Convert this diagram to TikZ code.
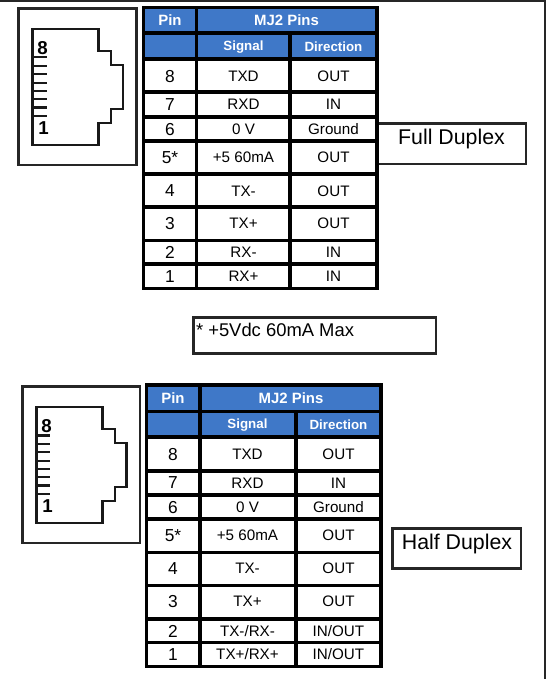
\documentclass[tikz,border=0pt]{standalone}
\usepackage{fontspec}
\setmainfont{Liberation Sans}

\definecolor{headblue}{RGB}{63,120,200}
\tikzset{
	every picture/.style={line width=0.75pt},
	gridline/.style={line width=2.4pt,color=black},
	framebox/.style={draw=black!85,line width=1.6pt},
	jackline/.style={draw=black!90,line width=1.9pt},
	headfill/.style={fill=headblue,draw opacity=0},
	headbig/.style={text=white,font=\fontsize{11.2}{12}\bfseries\selectfont,inner sep=0pt},
	headsmall/.style={text=white,font=\fontsize{10}{12}\bfseries\selectfont,inner sep=0pt},
	pincell/.style={font=\fontsize{13}{14}\selectfont,inner sep=0pt},
	textcell/.style={font=\fontsize{11.4}{13}\selectfont,inner sep=0pt},
	pinmark/.style={font=\fontsize{14}{15}\bfseries\selectfont,inner sep=0pt},
	notetext/.style={font=\fontsize{16}{18}\selectfont,inner sep=0pt},
	smallnote/.style={font=\fontsize{13.8}{15}\selectfont,inner sep=0pt}}

\begin{document}
\begin{tikzpicture}[x=0.75pt,y=0.75pt,yscale=-1,xscale=1]
		\useasboundingbox (0,0) rectangle (548,679);

		%Page edge
		\draw [line width=1.5pt,color=black!85]   (0,0.5) -- (544.5,0.5) -- (544.5,679) ;

		%Shape: Rectangle, upper jack
		\draw [framebox]  (18.5,8.5) rectangle (136.5,165) ;
		\draw [jackline]  (32.5,29) -- (98.5,29) -- (98.5,51) -- (111,51) -- (111,65) -- (123,65) -- (123,109) -- (111,109) -- (111,123) -- (98.5,123) -- (98.5,145) -- (32.5,145) -- cycle ;
		\draw [jackline]  (32.5,57) -- (46.5,57) (32.5,66) -- (46.5,66) (32.5,74) -- (46.5,74) (32.5,83) -- (46.5,83) (32.5,91) -- (46.5,91) (32.5,99) -- (46.5,99) (32.5,107.5) -- (46.5,107.5) (32.5,116) -- (46.5,116) ;
		\node [pinmark] (markAeight) at (42.5,48) {8};
		\node [pinmark] (markAone) at (43.5,128) {1};

		%Shape: Rectangle, upper side label
		\draw [framebox]  (376,123.5) -- (526,123.5) -- (526,164) -- (376,164) ;
		\node [notetext] (labelfull) at (451.5,139) {Full Duplex};

		%Header fills, upper table
		\fill [headfill]  (144,8) rectangle (377,59) ;

		%Straight Lines, upper table
		\draw [gridline]  (143.5,7.5) rectangle (377,288.5) ;
		\draw [gridline]  (196.5,7.5) -- (196.5,288.5) ;
		\draw [gridline]  (290,33) -- (290,288.5) ;
		\draw [gridline]  (143.5,33) -- (377,33) ;
		\draw [gridline]  (143.5,59) -- (377,59) ;
		\draw [gridline]  (143.5,92) -- (377,92) ;
		\draw [gridline]  (143.5,117) -- (377,117) ;
		\draw [gridline]  (143.5,141) -- (377,141) ;
		\draw [gridline]  (143.5,174) -- (377,174) ;
		\draw [gridline]  (143.5,207) -- (377,207) ;
		\draw [gridline]  (143.5,240.5) -- (377,240.5) ;
		\draw [gridline]  (143.5,264) -- (377,264) ;

		% Text Node
		\node [headbig] (headApin) at (170,20.5) {Pin};
		\node [headbig] (headAmj) at (286.5,20.5) {MJ2 Pins};
		\node [headsmall] (headAsignal) at (243.5,47) {Signal};
		\node [headsmall] (headAdir) at (333.5,46.5) {Direction};
		\node [pincell] (pinAe) at (170,77) {8};
		\node [textcell] (sigAe) at (243.5,76) {TXD};
		\node [textcell] (dirAe) at (333.5,76) {OUT};
		\node [pincell] (pinAg) at (170,105) {7};
		\node [textcell] (sigAg) at (243.5,104.5) {RXD};
		\node [textcell] (dirAg) at (333.5,104.5) {IN};
		\node [pincell] (pinAf) at (170,129.5) {6};
		\node [textcell] (sigAf) at (243.5,129.5) {0 V};
		\node [textcell] (dirAf) at (333.5,129.5) {Ground};
		\node [pincell] (pinAv) at (170,157.5) {5*};
		\node [textcell] (sigAv) at (243.5,157.5) {+5 60mA};
		\node [textcell] (dirAv) at (333.5,157.5) {OUT};
		\node [pincell] (pinAd) at (170,191) {4};
		\node [textcell] (sigAd) at (243.5,191.5) {TX-};
		\node [textcell] (dirAd) at (333.5,191.5) {OUT};
		\node [pincell] (pinAc) at (170,224) {3};
		\node [textcell] (sigAc) at (243.5,223.5) {TX+};
		\node [textcell] (dirAc) at (333.5,223.5) {OUT};
		\node [pincell] (pinAb) at (170,252.5) {2};
		\node [textcell] (sigAb) at (243.5,252.5) {RX-};
		\node [textcell] (dirAb) at (333.5,252.5) {IN};
		\node [pincell] (pinAa) at (170,276.5) {1};
		\node [textcell] (sigAa) at (243.5,276.5) {RX+};
		\node [textcell] (dirAa) at (333.5,276.5) {IN};

		%Shape: Rectangle, footnote
		\draw [framebox]  (193.5,317.5) rectangle (436,353.5) ;
		\node [smallnote,anchor=west] (notefive) at (195.5,330) {* +5Vdc 60mA Max};

		%Shape: Rectangle, lower jack
		\draw [framebox]  (22.5,386.5) rectangle (140,543) ;
		\draw [jackline]  (36.5,407) -- (102.5,407) -- (102.5,429) -- (115,429) -- (115,443) -- (126.5,443) -- (126.5,487) -- (115,487) -- (115,501) -- (102.5,501) -- (102.5,523) -- (36.5,523) -- cycle ;
		\draw [jackline]  (36.5,435.5) -- (50,435.5) (36.5,444) -- (50,444) (36.5,452) -- (50,452) (36.5,461) -- (50,461) (36.5,469) -- (50,469) (36.5,477) -- (50,477) (36.5,485.5) -- (50,485.5) (36.5,494) -- (50,494) ;
		\node [pinmark] (markBeight) at (46.5,426) {8};
		\node [pinmark] (markBone) at (47.5,506) {1};

		%Shape: Rectangle, lower side label
		\draw [framebox]  (392.5,528.5) rectangle (521,568.5) ;
		\node [notetext] (labelhalf) at (457,544) {Half Duplex};

		%Header fills, lower table
		\fill [headfill]  (147,385) rectangle (381,437) ;

		%Straight Lines, lower table
		\draw [gridline]  (146.5,385) rectangle (381,666.5) ;
		\draw [gridline]  (200,385) -- (200,666.5) ;
		\draw [gridline]  (296,411.5) -- (296,666.5) ;
		\draw [gridline]  (146.5,411.5) -- (381,411.5) ;
		\draw [gridline]  (146.5,437) -- (381,437) ;
		\draw [gridline]  (146.5,471) -- (381,471) ;
		\draw [gridline]  (146.5,495) -- (381,495) ;
		\draw [gridline]  (146.5,519) -- (381,519) ;
		\draw [gridline]  (146.5,552.5) -- (381,552.5) ;
		\draw [gridline]  (146.5,585.5) -- (381,585.5) ;
		\draw [gridline]  (146.5,619) -- (381,619) ;
		\draw [gridline]  (146.5,642.5) -- (381,642.5) ;

		% Text Node
		\node [headbig] (headBpin) at (173,398.5) {Pin};
		\node [headbig] (headBmj) at (291,398.5) {MJ2 Pins};
		\node [headsmall] (headBsignal) at (247.5,425.5) {Signal};
		\node [headsmall] (headBdir) at (338.5,424.5) {Direction};
		\node [pincell] (pinBe) at (173,455) {8};
		\node [textcell] (sigBe) at (247.5,454.5) {TXD};
		\node [textcell] (dirBe) at (338.5,454.5) {OUT};
		\node [pincell] (pinBg) at (173,483) {7};
		\node [textcell] (sigBg) at (247.5,483) {RXD};
		\node [textcell] (dirBg) at (338.5,483) {IN};
		\node [pincell] (pinBf) at (173,507.5) {6};
		\node [textcell] (sigBf) at (247.5,507.5) {0 V};
		\node [textcell] (dirBf) at (338.5,507.5) {Ground};
		\node [pincell] (pinBv) at (173,535.5) {5*};
		\node [textcell] (sigBv) at (247.5,535.5) {+5 60mA};
		\node [textcell] (dirBv) at (338.5,535.5) {OUT};
		\node [pincell] (pinBd) at (173,568.5) {4};
		\node [textcell] (sigBd) at (247.5,568.5) {TX-};
		\node [textcell] (dirBd) at (338.5,568.5) {OUT};
		\node [pincell] (pinBc) at (173,601.5) {3};
		\node [textcell] (sigBc) at (247.5,601.5) {TX+};
		\node [textcell] (dirBc) at (338.5,601.5) {OUT};
		\node [pincell] (pinBb) at (173,631) {2};
		\node [textcell] (sigBb) at (247.5,631) {TX-/RX-};
		\node [textcell] (dirBb) at (338.5,631) {IN/OUT};
		\node [pincell] (pinBa) at (173,654.5) {1};
		\node [textcell] (sigBa) at (247.5,654.5) {TX+/RX+};
		\node [textcell] (dirBa) at (338.5,654.5) {IN/OUT};

\end{tikzpicture}
\end{document}
